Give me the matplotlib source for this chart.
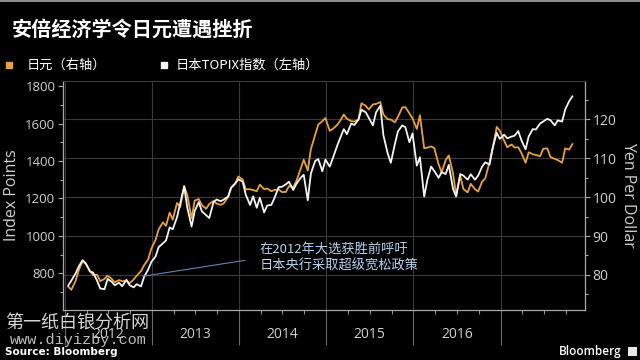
import matplotlib
matplotlib.use('Agg')
import matplotlib.pyplot as plt
import matplotlib.dates as mdates
import matplotlib.transforms as mtrans
from matplotlib.lines import Line2D
from matplotlib.patches import Rectangle
from matplotlib.ticker import MultipleLocator, NullFormatter
import pandas as pd

# ---------------- data ----------------
title = "安倍经济学令日元遭遇挫折"
legend_yen = "日元（右轴）"
legend_topix = "日本TOPIX指数（左轴）"
note = "在2012年大选获胜前呼吁\n日本央行采取超级宽松政策"
year_labels = ["2012", "2013", "2014", "2015", "2016"]
left_label = "Index Points"
right_label = "Yen Per Dollar"

# TOPIX (index points), two readings per month (mid, end), Jan 2012 - Oct 2017
topix_2012 = [735, 761, 800, 836, 870, 854, 810, 804, 760, 719, 715, 770,
              755, 736, 750, 731, 765, 737, 725, 742, 730, 781, 820, 860]
topix_2013 = [890, 940, 960, 976, 1045, 1035, 1100, 1171, 1265, 1150, 1050, 1133,
              1180, 1131, 1110, 1095, 1180, 1194, 1185, 1194, 1210, 1258, 1280, 1302]
topix_2014 = [1290, 1220, 1165, 1211, 1150, 1203, 1125, 1162, 1165, 1201, 1260, 1262,
              1275, 1289, 1245, 1277, 1310, 1326, 1190, 1333, 1400, 1410, 1345, 1407]
topix_2015 = [1370, 1415, 1480, 1523, 1570, 1543, 1600, 1592, 1620, 1673, 1660, 1630,
              1590, 1659, 1695, 1537, 1440, 1390, 1490, 1558, 1590, 1580, 1500, 1547]
topix_2016 = [1375, 1420, 1210, 1297, 1370, 1347, 1310, 1340, 1330, 1379, 1250, 1210,
              1330, 1322, 1300, 1329, 1300, 1322, 1370, 1393, 1380, 1470, 1550, 1518]
topix_2017 = [1540, 1521, 1530, 1535, 1560, 1512, 1462, 1531, 1570, 1568, 1600, 1611,
              1625, 1618, 1590, 1617, 1610, 1675, 1720, 1745]

# Yen per dollar, same dates
yen_2012 = [77.0, 76.2, 78.5, 81.2, 83.5, 82.9, 81.0, 80.0, 80.0, 78.4, 79.0, 79.8,
            79.0, 78.1, 78.7, 78.4, 78.5, 77.9, 78.8, 79.8, 81.0, 82.5, 84.0, 86.7]
yen_2013 = [89.0, 91.7, 93.5, 92.6, 96.0, 94.2, 98.5, 97.4, 102.8, 100.5, 94.5, 99.1,
            99.5, 97.9, 97.0, 98.2, 99.0, 98.3, 98.0, 98.4, 100.0, 102.4, 103.5, 105.3]
yen_2014 = [104.5, 102.0, 102.0, 101.8, 101.5, 103.2, 102.0, 102.2, 101.5, 101.8, 102.0, 101.3,
            101.3, 102.8, 102.5, 104.1, 107.2, 109.6, 106.8, 112.3, 116.0, 118.6, 119.5, 120.3]
yen_2015 = [117.0, 117.5, 118.5, 119.6, 121.2, 120.1, 119.5, 119.4, 119.8, 124.1, 123.4, 122.5,
            123.8, 123.9, 124.4, 121.2, 120.0, 119.9, 119.2, 120.6, 123.0, 123.1, 121.5, 120.2]
yen_2016 = [117.5, 121.0, 112.5, 112.7, 113.0, 112.6, 108.5, 106.3, 109.5, 110.7, 106.0, 100.5,
            105.5, 102.1, 101.2, 103.4, 102.0, 101.4, 104.0, 104.8, 109.0, 112.5, 118.0, 117.0]
yen_2017 = [114.5, 112.8, 113.5, 112.7, 112.8, 111.4, 108.8, 111.5, 111.0, 110.8, 110.5, 112.4,
            112.5, 110.3, 109.8, 109.5, 108.8, 112.5, 112.2, 113.6]

topix = topix_2012 + topix_2013 + topix_2014 + topix_2015 + topix_2016 + topix_2017
yen = yen_2012 + yen_2013 + yen_2014 + yen_2015 + yen_2016 + yen_2017

months = pd.period_range('2012-01', '2017-10', freq='M')
dates = [pd.Timestamp(p.year, p.month, d) for p in months for d in (15, 28)]

# ---------------- style ----------------
BG = '#000000'
ORANGE = '#e9a23b'
WHITE = '#f4f4f4'
GRID = '#3a3a3a'
SPINE = '#a8a8a8'
TXT = '#cfcfcf'
CJK = ['Noto Sans CJK SC', 'DejaVu Sans']
plt.rcParams['font.family'] = ['Open Sans', 'Noto Sans CJK SC', 'DejaVu Sans']

W, H = 640, 360
fig = plt.figure(figsize=(6.4, 3.6), dpi=100, facecolor=BG)


def fx(px):
    return px / W


def fy(py):
    return 1 - py / H


ax = fig.add_axes([fx(63), 1 - 310 / H, (585 - 63) / W, (310 - 81) / H])
ax.set_facecolor(BG)
ax_t = ax.twinx()

# yen on main (behind), right side
ax.plot(dates, yen, color=ORANGE, lw=1.3, zorder=3)
ax.yaxis.tick_right()
ax.yaxis.set_label_position('right')
ax_t.yaxis.tick_left()
ax_t.yaxis.set_label_position('left')

ax.set_ylim(71, 129.8)
ax.yaxis.set_major_locator(MultipleLocator(10))
ax.yaxis.set_minor_locator(MultipleLocator(5))
ax.set_xlim(pd.Timestamp('2011-12-24'), pd.Timestamp('2017-12-20'))
ax.xaxis.set_major_locator(mdates.YearLocator())
ax.xaxis.set_minor_locator(mdates.MonthLocator(bymonth=[4, 7, 10]))
ax.xaxis.set_major_formatter(NullFormatter())
ax.xaxis.set_minor_formatter(NullFormatter())
ax.grid(axis='y', which='major', color=GRID, lw=0.8, zorder=0)
ax.grid(axis='x', which='major', color=GRID, lw=0.8, zorder=0)
ax.set_axisbelow(True)
ax.tick_params(axis='x', which='major', length=25, width=0.8, color='#6a6a6a', direction='out')
ax.tick_params(axis='x', which='minor', length=3, width=0.8, color='#909090', direction='out')
ax.tick_params(axis='y', which='major', length=3.5, width=0.8, color=SPINE,
               labelcolor=TXT, labelsize=10, pad=2)
ax.tick_params(axis='y', which='minor', length=2, width=0.8, color=SPINE)
for side in ['left', 'right', 'bottom']:
    ax.spines[side].set_color(SPINE)
    ax.spines[side].set_linewidth(0.9)
ax.spines['top'].set_color(GRID)
ax.spines['top'].set_linewidth(0.8)

# TOPIX on twin (front), left side
ax_t.plot(dates, topix, color=WHITE, lw=1.3, zorder=3)
ax_t.set_ylim(604, 1827)
ax_t.yaxis.set_major_locator(MultipleLocator(200))
ax_t.yaxis.set_minor_locator(MultipleLocator(100))
ax_t.tick_params(axis='y', which='major', length=3.5, width=0.8, color=SPINE,
                 labelcolor=TXT, labelsize=9.5, pad=2)
ax_t.tick_params(axis='y', which='minor', length=2, width=0.8, color=SPINE)
for s in ax_t.spines.values():
    s.set_visible(False)

# year labels centred in each year
trans = mtrans.blended_transform_factory(ax.transData, fig.transFigure)
for lab in year_labels:
    xd = mdates.date2num(pd.Timestamp(int(lab), 7, 2))
    ax.text(xd, fy(335), lab, transform=trans, ha='center', va='center',
            color=TXT, fontsize=10)

# annotation
ax_t.annotate(note, xy=(mdates.date2num(pd.Timestamp('2012-11-22')), 784),
              xytext=(fx(260), fy(258)), textcoords='figure fraction',
              ha='left', va='center', color='#b3d3f2', fontsize=9.5,
              family=CJK, linespacing=1.35,
              arrowprops=dict(arrowstyle='-', color='#5a86b8', lw=0.8,
                              relpos=(0, 0.5), shrinkA=9, shrinkB=0))

# title & legend
fig.text(fx(12), fy(29), title, color='white', fontsize=14.5, fontweight='bold',
         family=CJK, ha='left', va='center')
fig.add_artist(Line2D([fx(9)], [fy(65)], marker='s', markersize=5, color=ORANGE,
                      transform=fig.transFigure))
fig.text(fx(27), fy(65), legend_yen, color='white', fontsize=9.5, family=CJK,
         ha='left', va='center')
fig.add_artist(Line2D([fx(164)], [fy(65)], marker='s', markersize=5, color=WHITE,
                      transform=fig.transFigure))
fig.text(fx(176), fy(65), legend_topix, color='white', fontsize=9.5, family=CJK,
         ha='left', va='center')

# axis titles
fig.text(fx(12), fy(195), left_label, color=TXT, fontsize=11.5, rotation=90,
         ha='center', va='center')
fig.text(fx(628), fy(195), right_label, color=TXT, fontsize=11.5, rotation=270,
         ha='center', va='center')

# watermark & source
fig.text(fx(5), fy(324), "第一纸白银分析网", color='#d6d6d6', fontsize=13,
         family=CJK, ha='left', va='center')
fig.text(fx(10), fy(340), "www.diyizby.com", color='#bdbdbd', fontsize=11,
         family=['Liberation Mono', 'DejaVu Sans Mono'], ha='left', va='center')
fig.text(fx(5), fy(352), "Source: Bloomberg", color='white', fontsize=7.5,
         fontweight='bold', family=['DejaVu Sans'], ha='left', va='center')
fig.text(fx(622), fy(351), "Bloomberg", color='white', fontsize=8.5,
         fontweight='semibold', ha='right', va='center')
fig.add_artist(Rectangle((fx(628), fy(356)), 9 / W, 9 / H, transform=fig.transFigure,
                         facecolor='#e8e8e8', edgecolor='none'))
fig.add_artist(Rectangle((0, fy(2)), 1, 2 / H, transform=fig.transFigure,
                         facecolor='#8c8c8c', edgecolor='none'))

fig.savefig('out.png', dpi=100, facecolor=BG)
